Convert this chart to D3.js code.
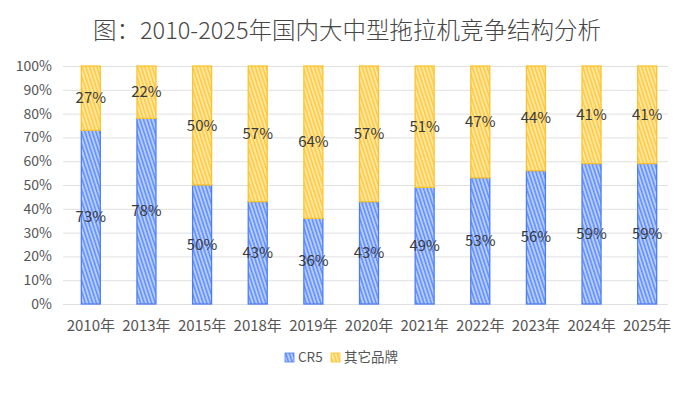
<!DOCTYPE html>
<html><head><meta charset="utf-8">
<script src="https://cdn.jsdelivr.net/npm/d3@7/dist/d3.min.js"></script>
<style>body{margin:0;background:#fff}svg{display:block}text{font-family:"Microsoft YaHei","Noto Sans CJK SC","Noto Sans",sans-serif}</style>
</head><body><svg id="c" width="694" height="397"></svg>
<script>
const categories=["2010年","2013年","2015年","2018年","2019年","2020年","2021年","2022年","2023年","2024年","2025年"];
const cr5=[73,78,50,43,36,43,49,53,56,59,59];
const others=[27,22,50,57,64,57,51,47,44,41,41];
const yTicks=[0,10,20,30,40,50,60,70,80,90,100];
const seriesNames=["CR5","其它品牌"];

const svg=d3.select("#c");
const m={l:63,r:19,t:66,b:93};
const W=694,H=397;
const x=d3.scaleBand().domain(categories).range([m.l,W-m.r]);
const y=d3.scaleLinear().domain([0,100]).range([H-m.b,m.t]);
const colors=[{stroke:"#4d7ef7",base:"#c3d4ff",line:"#5b8cff"},{stroke:"#fbc42f",base:"#ffeab0",line:"#ffc93a"}];

const defs=svg.append("defs");
colors.forEach((c,i)=>{
  const p=defs.append("pattern").attr("id","p"+i).attr("patternUnits","userSpaceOnUse")
    .attr("width",3.5).attr("height",8).attr("patternTransform","rotate(-18)");
  p.append("rect").attr("width",3.5).attr("height",8).attr("fill",c.base);
  p.append("line").attr("x1",1.5).attr("x2",1.5).attr("y1",0).attr("y2",8).attr("stroke",c.line).attr("stroke-width",1.7);
});

svg.append("text").attr("x",W/2).attr("y",39).attr("text-anchor","middle")
  .attr("font-size",23.5).attr("font-weight",300).attr("fill","#464646").text("图：2010-2025年国内大中型拖拉机竞争结构分析");

svg.append("g").selectAll("line").data(yTicks).join("line")
  .attr("x1",m.l).attr("x2",W-m.r-7).attr("y1",d=>y(d)+0.5).attr("y2",d=>y(d)+0.5)
  .attr("stroke","#e0e0e0").attr("stroke-width",1);
svg.append("g").selectAll("text").data(yTicks).join("text")
  .attr("x",52).attr("y",d=>y(d)+5).attr("text-anchor","end").attr("font-size",14).attr("fill","#555")
  .text(d=>d+"%");
svg.append("g").selectAll("text").data(categories).join("text")
  .attr("x",d=>x(d)+x.bandwidth()/2).attr("y",331).attr("text-anchor","middle").attr("font-size",15).attr("fill","#555")
  .text(d=>d);

const bw=19;
const stack=[cr5,others];
categories.forEach((cat,i)=>{
  let acc=0;
  stack.forEach((s,k)=>{
    const v=s[i],y0=acc,y1=acc+v;acc=y1;
    const cx=x(cat)+x.bandwidth()/2;
    svg.append("rect").attr("x",cx-bw/2).attr("y",y(y1)).attr("width",bw).attr("height",y(y0)-y(y1))
      .attr("fill","url(#p"+k+")").attr("stroke",colors[k].stroke).attr("stroke-width",1.3);
  });
});
categories.forEach((cat,i)=>{
  let acc=0;
  stack.forEach((s,k)=>{
    const v=s[i],y0=acc,y1=acc+v;acc=y1;
    const cx=x(cat)+x.bandwidth()/2;
    svg.append("text").attr("x",cx).attr("y",(y(y0)+y(y1))/2+5).attr("text-anchor","middle")
      .attr("font-size",15).attr("fill","#3a3a3a").text(v+"%");
  });
});

const lg=svg.append("g");
const lx=[285,331];
seriesNames.forEach((n,k)=>{
  lg.append("rect").attr("x",lx[k]).attr("y",353).attr("width",9).attr("height",9)
    .attr("fill","url(#p"+k+")").attr("stroke",colors[k].stroke).attr("stroke-width",0.8);
  lg.append("text").attr("x",lx[k]+13).attr("y",362).attr("font-size",13.5).attr("fill","#555").text(n);
});
</script></body></html>
